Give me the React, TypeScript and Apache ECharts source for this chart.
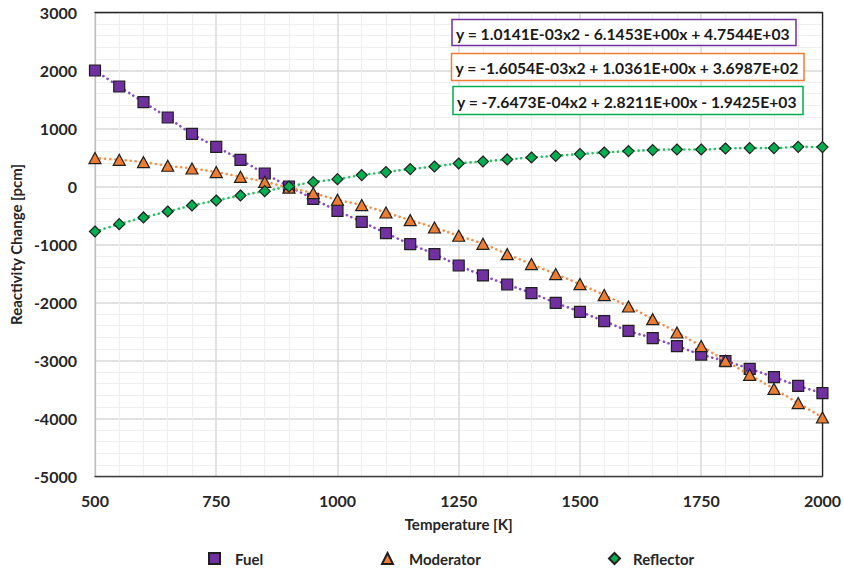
import React, { useEffect, useRef } from "react";
import * as echarts from "echarts";

const temperatures = [500, 550, 600, 650, 700, 750, 800, 850, 900, 950, 1000, 1050, 1100, 1150, 1200, 1250, 1300, 1350, 1400, 1450, 1500, 1550, 1600, 1650, 1700, 1750, 1800, 1850, 1900, 1950, 2000];
const fuel = [2000, 1724, 1455, 1190, 908, 684, 460, 224, 0, -212, -420, -609, -804, -993, -1166, -1362, -1534, -1690, -1838, -2005, -2160, -2321, -2488, -2614, -2752, -2897, -3010, -3143, -3286, -3436, -3562];
const moderator = [490, 460, 420, 357, 310, 248, 167, 81, -20, -114, -229, -321, -448, -580, -707, -850, -988, -1166, -1338, -1510, -1683, -1872, -2069, -2287, -2517, -2752, -3005, -3247, -3488, -3734, -3983];
const reflector = [-776, -649, -534, -431, -328, -241, -155, -80, 0, 75, 127, 197, 248, 300, 345, 397, 431, 466, 500, 529, 559, 586, 610, 628, 638, 638, 655, 662, 662, 684, 679];

const seriesNames = ["Fuel", "Moderator", "Reflector"];
const equations = [
  "y = 1.0141E-03x2 - 6.1453E+00x + 4.7544E+03",
  "y = -1.6054E-03x2 + 1.0361E+00x + 3.6987E+02",
  "y = -7.6473E-04x2 + 2.8211E+00x - 1.9425E+03",
];

const FONT = "Lato";
const markerColors = ["#7030A0", "#ED7D31", "#00B050"];
const lineColors = ["#8a4cc4", "#f2904a", "#25c263"];
const symbols = ["rect", "triangle", "diamond"];
const symbolSizes: any[] = [11, [12, 11], [11, 11]];

export default function App() {
  const ref = useRef<HTMLDivElement>(null);
  useEffect(() => {
    if (!ref.current) return;
    const chart = echarts.init(ref.current, undefined, { renderer: "svg" });
    const datasets = [fuel, moderator, reflector];
    const series = datasets.map((vals, i) => ({
      name: seriesNames[i],
      type: "line",
      smooth: true,
      data: temperatures.map((t, j) => [t, vals[j]]),
      symbol: symbols[i],
      symbolSize: symbolSizes[i],
      itemStyle: { color: markerColors[i], borderColor: "#1f1f1f", borderWidth: 1.2 },
      lineStyle: { color: lineColors[i], width: 2.6, type: [0.1, 5], cap: "round" },
      z: 2 + i,
    }));

    const legendLefts = [203, 376, 603];
    const legendPads = [10, 11, 8];
    const legends = seriesNames.map((n, i) => ({
      data: [{ name: n, icon: symbols[i] }],
      left: legendLefts[i],
      top: 546,
      itemWidth: 11,
      itemHeight: 11,
      textStyle: {
        fontFamily: FONT,
        fontWeight: "bold",
        fontSize: 15,
        color: "#262626",
        padding: [0, 0, 0, legendPads[i]],
      },
    }));

    const boxes = [
      { x: 452, y: 19.5, w: 344, h: 26 },
      { x: 451.5, y: 53.5, w: 352.5, h: 27 },
      { x: 453, y: 86.5, w: 350, h: 28 },
    ];
    const graphics: any[] = [];
    boxes.forEach((b, i) => {
      graphics.push({
        type: "rect",
        shape: { x: b.x, y: b.y, width: b.w, height: b.h },
        style: { fill: "#ffffff", stroke: markerColors[i], lineWidth: 1.5 },
        z: 10,
      });
      graphics.push({
        type: "text",
        x: b.x + 4,
        y: b.y + b.h / 2 + 1,
        style: {
          text: equations[i],
          fontFamily: FONT,
          fontWeight: "bold",
          fontSize: 15.7,
          fill: "#1a1a1a",
          verticalAlign: "middle",
          align: "left",
        },
        z: 11,
      });
    });

    const labelStyle = {
      fontFamily: FONT,
      fontWeight: "bold",
      fontSize: 16,
      color: "#262626",
      formatter: (v: number) => String(v),
    };

    chart.setOption({
      animation: false,
      backgroundColor: "#ffffff",
      grid: { left: 92, right: 18.5, top: 12.5, bottom: 94.5, containLabel: false },
      legend: legends,
      xAxis: [
        {
          type: "value",
          min: 500,
          max: 2000,
          interval: 250,
          name: "Temperature [K]",
          nameLocation: "middle",
          nameGap: 40,
          nameTextStyle: { fontFamily: FONT, fontWeight: "bold", fontSize: 15, color: "#262626" },
          axisLine: { show: true, onZero: false, lineStyle: { color: "#404040", width: 1.3 } },
          axisTick: { show: false },
          axisLabel: { ...labelStyle, margin: 16 },
          splitLine: { show: true, lineStyle: { color: "#d9d9d9", width: 1.5 } },
          minorTick: { show: false, splitNumber: 5 },
          minorSplitLine: { show: true, lineStyle: { color: "#efefef", width: 1.2 } },
        },
        {
          type: "value",
          position: "top",
          min: 500,
          max: 2000,
          interval: 250,
          axisLine: { show: true, onZero: false, lineStyle: { color: "#262626", width: 1.3 } },
          axisTick: { show: false },
          axisLabel: { show: false },
          splitLine: { show: false },
        },
      ],
      yAxis: [
        {
          type: "value",
          min: -5000,
          max: 3000,
          interval: 1000,
          name: "Reactivity Change [pcm]",
          nameLocation: "middle",
          nameGap: 62,
          nameTextStyle: { fontFamily: FONT, fontWeight: "bold", fontSize: 15, color: "#262626" },
          axisLine: { show: true, onZero: false, lineStyle: { color: "#bfbfbf", width: 1.3 } },
          axisTick: { show: false },
          axisLabel: { ...labelStyle, margin: 18 },
          splitLine: { show: true, lineStyle: { color: "#d9d9d9", width: 1.5 } },
          minorTick: { show: false, splitNumber: 5 },
          minorSplitLine: { show: true, lineStyle: { color: "#efefef", width: 1.2 } },
        },
        {
          type: "value",
          position: "right",
          min: -5000,
          max: 3000,
          interval: 1000,
          axisLine: { show: true, onZero: false, lineStyle: { color: "#262626", width: 1.3 } },
          axisTick: { show: false },
          axisLabel: { show: false },
          splitLine: { show: false },
        },
      ],
      series,
      graphic: graphics,
    });
    return () => chart.dispose();
  }, []);
  return (
    <div
      ref={ref}
      style={{ position: "fixed", left: 0, top: 0, width: 844, height: 571, background: "#fff" }}
    />
  );
}
